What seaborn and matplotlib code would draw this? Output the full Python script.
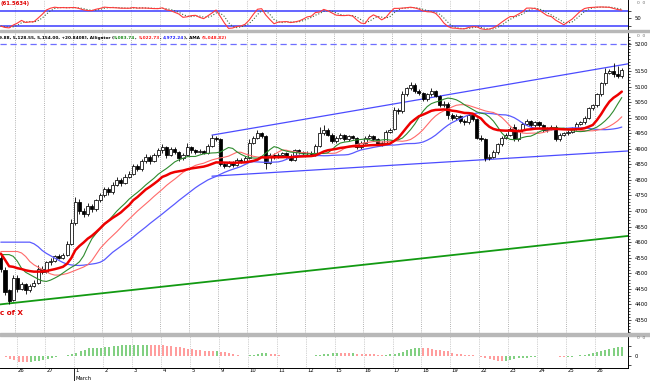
import numpy as np
import pandas as pd
import matplotlib
matplotlib.use("Agg")
import matplotlib.pyplot as plt
import matplotlib.transforms as mtransforms
from matplotlib.patches import Rectangle
from matplotlib import font_manager
import seaborn as sns

# sessions shown on the time axis, 7 hourly bars each (4 bars of the previous session first)
day_labels = ['26', '27', '1', '2', '3', '4', '5', '9', '10', '11', '12',
              '15', '16', '17', '18', '19', '22', '23', '24', '25', '26']
lead_bars = 4
bars_per_day = 7

opens = [4550, 4511, 4446, 4415,
         4485, 4450, 4465, 4445, 4460, 4470, 4515,
         4505, 4535, 4540, 4555, 4550, 4560, 4595,
         4660, 4730, 4700, 4690, 4715, 4705, 4735,
         4750, 4770, 4760, 4785, 4800, 4790, 4810,
         4820, 4845, 4835, 4860, 4875, 4860, 4880,
         4895, 4905, 4880, 4900, 4890, 4870, 4880,
         4905, 4895, 4890, 4893, 4888, 4910, 4935,
         4930, 4850, 4845, 4855, 4848, 4865, 4862,
         4870, 4920, 4935, 4950, 4940, 4855, 4880,
         4875, 4880, 4885, 4878, 4865, 4895, 4890,
         4885, 4888, 4882, 4910, 4950, 4960, 4945,
         4925, 4935, 4945, 4930, 4940, 4935, 4905,
         4920, 4935, 4940, 4930, 4915, 4920, 4955,
         4965, 5025, 5020, 5075, 5095, 5105, 5085,
         5080, 5060, 5075, 5085, 5070, 5040, 5045,
         5010, 5000, 5005, 4990, 4985, 5010, 4995,
         4935, 4930, 4870, 4875, 4890, 4915, 4935,
         4945, 4970, 4930, 4960, 4980, 4990, 4975,
         4985, 4975, 4960, 4965, 4970, 4930, 4945,
         4950, 4955, 4965, 4980, 4985, 5000, 5030,
         5040, 5075, 5110, 5145, 5150, 5140, 5135]
highs = [4560, 4520, 4450, 4495,
         4495, 4472, 4470, 4465, 4478, 4525, 4522,
         4540, 4548, 4560, 4562, 4566, 4605, 4675,
         4745, 4740, 4710, 4725, 4722, 4740, 4758,
         4778, 4776, 4792, 4808, 4806, 4818, 4828,
         4852, 4850, 4866, 4882, 4880, 4888, 4902,
         4915, 4910, 4906, 4905, 4894, 4886, 4920,
         4910, 4900, 4898, 4897, 4915, 4945, 4942,
         4935, 4856, 4860, 4860, 4870, 4870, 4876,
         4930, 4940, 4960, 4955, 4944, 4885, 4886,
         4886, 4890, 4889, 4882, 4900, 4899, 4894,
         4893, 4892, 4915, 4970, 4975, 4966, 4950,
         4940, 4950, 4948, 4945, 4944, 4938, 4925,
         4940, 4946, 4944, 4934, 4926, 4962, 4966,
         5035, 5030, 5085, 5100, 5115, 5110, 5092,
         5084, 5080, 5095, 5090, 5074, 5052, 5050,
         5016, 5012, 5010, 4996, 5015, 5014, 5000,
         4945, 4934, 4882, 4895, 4920, 4940, 4950,
         4970, 4980, 4965, 4985, 4995, 4994, 4990,
         4990, 4980, 4970, 4975, 4975, 4950, 4955,
         4960, 4970, 4985, 4990, 5005, 5035, 5045,
         5080, 5115, 5160, 5158, 5175, 5165, 5159.88]
lows = [4505, 4430, 4400, 4410,
        4440, 4445, 4435, 4440, 4455, 4465, 4498,
        4500, 4528, 4535, 4545, 4546, 4556, 4590,
        4655, 4690, 4680, 4685, 4698, 4700, 4728,
        4744, 4752, 4755, 4780, 4782, 4786, 4805,
        4815, 4828, 4830, 4855, 4852, 4856, 4874,
        4888, 4872, 4876, 4884, 4862, 4865, 4876,
        4888, 4884, 4885, 4882, 4884, 4905, 4925,
        4845, 4838, 4840, 4842, 4845, 4855, 4858,
        4866, 4914, 4930, 4934, 4835, 4850, 4868,
        4870, 4874, 4872, 4860, 4862, 4884, 4880,
        4878, 4876, 4878, 4905, 4944, 4940, 4918,
        4920, 4930, 4926, 4926, 4930, 4900, 4900,
        4915, 4930, 4926, 4910, 4910, 4916, 4950,
        4960, 5012, 5016, 5070, 5088, 5080, 5074,
        5055, 5055, 5070, 5065, 5035, 5034, 4995,
        4994, 4994, 4984, 4978, 4980, 4990, 4930,
        4925, 4860, 4864, 4870, 4884, 4910, 4930,
        4940, 4925, 4926, 4955, 4975, 4970, 4970,
        4970, 4955, 4955, 4960, 4925, 4926, 4940,
        4944, 4950, 4960, 4975, 4980, 4996, 5025,
        5035, 5070, 5105, 5140, 5130, 5128, 5128.55]
closes = [4515, 4440, 4412, 4485,
          4450, 4465, 4445, 4460, 4470, 4515, 4505,
          4535, 4540, 4555, 4550, 4560, 4595, 4660,
          4730, 4700, 4690, 4715, 4705, 4735, 4750,
          4770, 4760, 4785, 4800, 4790, 4810, 4820,
          4845, 4835, 4860, 4875, 4860, 4880, 4895,
          4905, 4880, 4900, 4890, 4870, 4880, 4905,
          4895, 4890, 4893, 4888, 4910, 4935, 4930,
          4850, 4845, 4855, 4848, 4865, 4862, 4870,
          4920, 4935, 4950, 4940, 4855, 4880, 4875,
          4880, 4885, 4878, 4865, 4895, 4890, 4885,
          4888, 4882, 4910, 4950, 4960, 4945, 4925,
          4935, 4945, 4930, 4940, 4935, 4905, 4920,
          4935, 4940, 4930, 4915, 4920, 4955, 4960,
          5025, 5020, 5075, 5095, 5105, 5085, 5080,
          5060, 5075, 5085, 5070, 5040, 5045, 5010,
          5000, 5005, 4990, 4985, 5010, 4995, 4935,
          4930, 4870, 4875, 4890, 4915, 4935, 4945,
          4965, 4930, 4960, 4980, 4990, 4975, 4985,
          4975, 4960, 4965, 4970, 4930, 4945, 4950,
          4955, 4965, 4980, 4985, 5000, 5030, 5040,
          5075, 5110, 5145, 5150, 5140, 5133, 5154]

# levels read at the left edge of the chart (history before the first bar)
jaw_seed, teeth_seed, lips_seed, ama_seed = 4600, 4570, 4560, 4565
prior_median = 4600

# hand drawn trend lines: (bar positions, prices)
upper_channel = ([51.0, 151.5], [4944, 5173])
lower_channel = ([51.0, 151.5], [4812, 4893])
support_line = ([-0.2, 151.5], [4400, 4620])
resistance_level = 5236

header_parts = [("9.88, 5,128.55, 5,154.00, +20.8408], Alligator (", "black"),
                ("5,083.74", "#1c8c1c"), (", ", "black"),
                ("5,022.73", "#ff2020"), (", ", "black"),
                ("4,972.24", "#2020ff"), ("), AMA ", "black"),
                ("(5,048.82)", "#ff2020")]

# ---------------------------------------------------------------- indicators
df = pd.DataFrame({'open': opens, 'high': highs, 'low': lows, 'close': closes})
df['bar'] = np.arange(len(df))
median = (df['high'] + df['low']) / 2
close = df['close']


def smma(values, period, seed):
    out, prev = [], seed
    for v in values:
        prev = (prev * (period - 1) + v) / period
        out.append(prev)
    return pd.Series(out)


def seeded_sma(values, period, seed):
    # simple average that fills the missing early window with the prior level
    padded = pd.concat([pd.Series([seed] * (period - 1)), values], ignore_index=True)
    return padded.rolling(period).mean().iloc[period - 1:].reset_index(drop=True)


jaw = smma(median, 13, jaw_seed).shift(8).fillna(jaw_seed)
teeth = smma(median, 8, teeth_seed).shift(5).fillna(teeth_seed)
lips = smma(median, 5, lips_seed).shift(3).fillna(lips_seed)

# adaptive moving average (efficiency ratio over 10 bars, fast 4 / slow 10)
change = (close - close.shift(10)).abs().fillna((close - close.iloc[0]).abs())
vol = close.diff().abs().fillna(0).rolling(10, min_periods=1).sum()
er = (change / vol.replace(0, np.nan)).fillna(0)
sc = (er * (2 / 5 - 2 / 11) + 2 / 11) ** 2
ama, prev = [], ama_seed
for c, s in zip(close, sc):
    prev = prev + s * (c - prev)
    ama.append(prev)
ama = pd.Series(ama)

# slow stochastic
hh = df['high'].rolling(10, min_periods=1).max()
ll = df['low'].rolling(10, min_periods=1).min()
stoch_k = (100 * (close - ll) / (hh - ll)).rolling(3, min_periods=1).mean()
stoch_d = stoch_k.rolling(3, min_periods=1).mean()

# awesome oscillator
ao = seeded_sma(median, 5, prior_median) - seeded_sma(median, 34, prior_median)
ao_cols = np.where(ao.diff().fillna(0) >= 0, '#5cc25c', '#ff8080')

# ---------------------------------------------------------------- figure
sns.set_theme(style='white')
names = {f.name for f in font_manager.fontManager.ttflist}
small_font = 'Liberation Sans Narrow' if 'Liberation Sans Narrow' in names else 'DejaVu Sans'
fs = 4.6 if small_font != 'DejaVu Sans' else 3.8
plt.rcParams['font.family'] = [small_font, 'DejaVu Sans']

W, H = 650, 381
fig = plt.figure(figsize=(6.5, 3.81), dpi=100)
fig.patch.set_facecolor('white')


def px_axes(x0, y0, x1, y1):
    return fig.add_axes([x0 / W, 1 - y1 / H, (x1 - x0) / W, (y1 - y0) / H])


ax_st = px_axes(0, 0, 628, 30)
ax = px_axes(0, 32, 628, 333)
ax_ao = px_axes(0, 336, 628, 367.5)

xlim = (-0.2, 151.5)
bounds = lead_bars - 0.5 + bars_per_day * np.arange(len(day_labels))

for a in (ax_st, ax, ax_ao):
    a.set_facecolor('white')
    a.set_xlim(*xlim)
    for side in ('left', 'top', 'bottom'):
        a.spines[side].set_visible(False)
    a.spines['right'].set_color('black')
    a.spines['right'].set_linewidth(0.7)
    a.yaxis.tick_right()
    a.tick_params(axis='y', which='both', direction='out', colors='black',
                  labelsize=fs, pad=2.5, width=0.5)
    a.tick_params(axis='y', which='major', length=2.5)
    a.tick_params(axis='y', which='minor', length=1.2)
    a.set_xticks([])
    a.grid(False)

# separators between panels
for y0, y1 in ((30, 32), (333, 336)):
    fig.patches.append(Rectangle((0, 1 - y1 / H), 1, (y1 - y0) / H,
                                 transform=fig.transFigure, color='#b8b8b8', zorder=0))

# ---- price panel
ylo, yhi = 4308.1, 5275.3
ax.set_ylim(ylo, yhi)
ax.vlines(bounds, ylo, yhi, colors='#9a9a9a', linestyles=(0, (1, 1.6)), lw=0.6, zorder=0)
ax.axhline(resistance_level, color='#6f6fff', lw=0.9, ls=(0, (5, 3)), zorder=1)
ax.plot(*support_line, color='#129a12', lw=1.3, zorder=1)
ax.plot(*upper_channel, color='#4b4bff', lw=0.9, zorder=1)
ax.plot(*lower_channel, color='#4b4bff', lw=0.9, zorder=1)

x = df['bar'].to_numpy()
o = df['open'].to_numpy()
c = df['close'].to_numpy()
up = c >= o
ax.vlines(x, df['low'], df['high'], color='black', lw=0.6, zorder=2)
ax.bar(x[up], (c - o)[up], bottom=o[up], width=0.75, color='white',
       edgecolor='black', linewidth=0.55, zorder=3)
ax.bar(x[~up], (o - c)[~up], bottom=c[~up], width=0.75, color='black',
       edgecolor='black', linewidth=0.55, zorder=3)

sns.lineplot(x=x, y=jaw, ax=ax, color='#5a5aff', linewidth=0.9, legend=False, zorder=4)
sns.lineplot(x=x, y=teeth, ax=ax, color='#ff6a6a', linewidth=0.8, legend=False, zorder=4)
sns.lineplot(x=x, y=lips, ax=ax, color='#2e8b2e', linewidth=0.8, legend=False, zorder=4)
sns.lineplot(x=x, y=ama, ax=ax, color='#ee0000', linewidth=1.8, legend=False, zorder=5)
ax.set_xlim(*xlim)
ax.set_ylim(ylo, yhi)
ax.set_xlabel('')
ax.set_ylabel('')

price_ticks = list(range(4350, 5151, 50))
ax.set_yticks(price_ticks + [resistance_level])
ax.set_yticklabels([str(v) for v in price_ticks] + ['5200'])
ax.set_yticks(np.arange(4310, 5270, 10), minor=True)

ax.text(-0.1, 4372, 'c of X', color='#e00000', fontsize=5.2, fontweight='bold',
        ha='left', va='center')

# ---- stochastic panel
ax_st.set_ylim(2.5, 125)
ax_st.vlines(bounds, 2.5, 125, colors='#a8a8a8', linestyles=(0, (1, 1.6)), lw=0.5, zorder=0)
ax_st.axhline(80, color='#3a3aff', lw=1.1)
ax_st.axhline(20, color='#3a3aff', lw=1.1)
sns.lineplot(x=x, y=stoch_d, ax=ax_st, color='#3c6a3c', linewidth=0.8, linestyle=':', legend=False)
sns.lineplot(x=x, y=stoch_k, ax=ax_st, color='#ff3a3a', linewidth=0.8, legend=False)
ax_st.set_xlim(*xlim)
ax_st.set_ylim(2.5, 125)
ax_st.set_xlabel('')
ax_st.set_ylabel('')
ax_st.set_yticks([20, 50, 80])
ax_st.set_yticklabels(['', '50', ''])

# ---- oscillator panel
m = float(ao.max())
ao_lo, ao_hi = -m * 12 / 11, m * 19.5 / 11
ax_ao.set_ylim(ao_lo, ao_hi)
ax_ao.vlines(bounds, ao_lo, ao_hi, colors='#a8a8a8', linestyles=(0, (1, 1.6)), lw=0.5, zorder=0)
ax_ao.vlines(x, 0, ao, colors=ao_cols, lw=1.1, zorder=2)
ax_ao.set_yticks([-m * 0.9, 0, m * 0.9])
ax_ao.set_yticklabels(['', '0', ''])
ax_ao.spines['bottom'].set_visible(True)
ax_ao.spines['bottom'].set_color('black')
ax_ao.spines['bottom'].set_linewidth(0.7)
ax_ao.set_xticks(bounds)
ax_ao.set_xticks(np.arange(-0.5, 151, 1.0), minor=True)
ax_ao.set_xticklabels([])
ax_ao.tick_params(axis='x', which='major', direction='out', length=4, width=0.6, colors='black')
ax_ao.tick_params(axis='x', which='minor', direction='out', length=1.8, width=0.5, colors='black')

tr = mtransforms.blended_transform_factory(ax_ao.transData, ax_ao.transAxes)
for b, lbl in zip(bounds, day_labels):
    ax_ao.text(b + 0.3, -0.03, lbl, transform=tr, ha='left', va='top', fontsize=fs, color='black')
march_x = bounds[2]
ax_ao.plot([march_x, march_x], [0, -0.5], transform=tr, color='black', lw=0.6, clip_on=False)
ax_ao.text(march_x + 0.3, -0.26, 'March', transform=tr, ha='left', va='top', fontsize=fs, color='black')

# ---- header texts
fig.text(0.5 / W, 1 - 3.5 / H, '(61.5634)', color='#e00000', fontsize=fs, fontweight='bold',
         ha='left', va='center')
for yy in (3, 36, 338):
    fig.text(637 / W, 1 - yy / H, '0  0', color='#707070', fontsize=fs * 0.85, ha='left', va='center')

fig.canvas.draw()
renderer = fig.canvas.get_renderer()
probe = fig.text(0, 0, ''.join(p for p, _ in header_parts), fontsize=5, fontweight='bold')
width = probe.get_window_extent(renderer).width
probe.remove()
hfs = 5 * 226 / width
hx = -1 / W
for part, col in header_parts:
    t = fig.text(hx, 1 - 37.5 / H, part, color=col, fontsize=hfs, fontweight='bold',
                 ha='left', va='center')
    hx = t.get_window_extent(renderer).x1 / fig.bbox.width

fig.savefig('out.png', dpi=100)
